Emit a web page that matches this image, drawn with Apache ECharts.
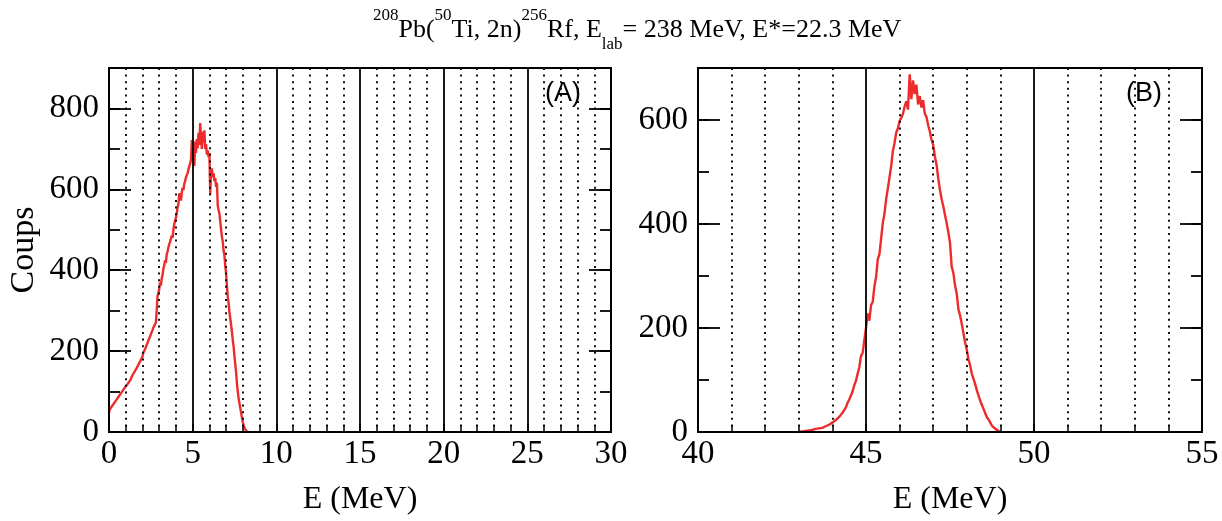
<!DOCTYPE html>
<html>
<head>
<meta charset="utf-8">
<script src="https://cdn.jsdelivr.net/npm/echarts@6/dist/echarts.min.js"></script>
<style>html,body{margin:0;padding:0;background:#fff}#c{width:1222px;height:521px}</style>
</head>
<body>
<div id="c"></div>
<script>
// Panel A: counts per 0.05 MeV bin starting at 0 MeV
const binStartA = 0.0;
const binWidthA = 0.05;
const countsA = [48,56,54,62,60,68,66,74,72,80,78,86,84,92,88,98,96,104,100,110,
  106,114,118,116,124,122,130,136,132,144,146,142,154,158,156,166,170,168,178,182,
  186,196,192,204,210,206,220,226,222,236,240,238,252,258,254,262,270,300,336,344,
  352,370,362,380,388,404,412,424,418,440,446,456,464,470,478,486,480,500,514,522,
  530,540,556,564,590,584,572,592,604,598,614,620,630,626,640,650,646,664,672,722,
  680,700,658,718,690,724,702,740,710,764,730,700,742,716,746,700,712,686,696,680,
  690,588,640,652,630,640,620,628,606,616,560,548,540,542,500,482,470,448,436,410,
  392,360,334,318,296,280,264,246,226,210,186,166,146,118,98,82,70,58,46,34,
  24,16,10,6,3,1,0];
// Panel B: counts per 0.05 MeV bin starting at 43 MeV
const binStartB = 43.0;
const binWidthB = 0.05;
const countsB = [0,1,1,2,2,3,3,4,4,5,6,5,7,8,8,10,11,12,14,15,
  18,19,23,24,29,31,37,42,47,56,62,70,78,90,98,112,124,146,152,176,
  200,228,214,244,250,280,298,332,342,372,402,420,448,468,490,512,540,556,576,584,
  598,604,612,626,636,620,688,640,676,650,668,630,646,624,638,612,606,590,578,562,
  552,530,514,488,466,448,434,418,402,384,364,318,306,282,266,236,224,208,190,172,
  158,140,128,112,102,92,80,70,60,52,44,36,28,24,18,12,9,6,4,2,
  0];
const xTicksA = {min: 0, max: 30, interval: 5};
const xTicksB = {min: 40, max: 55, interval: 5};
const yTicksA = {min: 0, max: 900, interval: 200};
const yTicksB = {min: 0, max: 700, interval: 200};
const panelLabels = ['(A)', '(B)'];
const xName = 'E (MeV)';
const yName = 'Coups';

const serif = 'Liberation Serif';
const red = '#ee2b2b';

function xAxisFor(grid, t) {
  return {
    type: 'value', gridIndex: grid, min: t.min, max: t.max, interval: t.interval,
    name: xName, nameLocation: 'middle', nameGap: 52,
    nameTextStyle: {fontFamily: serif, fontSize: 32, color: '#000'},
    axisLine: {show: true, lineStyle: {color: '#000', width: 2}},
    axisTick: {show: true, inside: true, length: 8, lineStyle: {color: '#000', width: 1.5}},
    minorTick: {show: true, splitNumber: 5, length: 7, lineStyle: {color: '#000', width: 1.5}},
    axisLabel: {fontFamily: serif, fontSize: 33, color: '#000', margin: 6},
    splitLine: {show: true, lineStyle: {color: '#000', width: 1.8}},
    minorSplitLine: {show: true, lineStyle: {color: '#111', width: 2, type: [2, 4.6]}},
    z: 3
  };
}
function yAxesFor(grid, t, withName) {
  const common = {type: 'value', gridIndex: grid, min: t.min, max: t.max, splitLine: {show: false}, z: 3};
  return [
    Object.assign({}, common, {
      position: 'left', interval: t.interval,
      name: withName ? yName : '', nameLocation: 'middle', nameGap: 68,
      nameTextStyle: {fontFamily: serif, fontSize: 34, color: '#000'},
      axisLine: {show: true, lineStyle: {color: '#000', width: 2}},
      axisTick: {show: true, inside: true, length: 22, lineStyle: {color: '#000', width: 1.8}},
      axisLabel: {fontFamily: serif, fontSize: 33, color: '#000', margin: 10, showMaxLabel: false}
    }),
    Object.assign({}, common, {
      position: 'left', interval: t.interval / 2,
      axisLine: {show: false},
      axisTick: {show: true, inside: true, length: 11, lineStyle: {color: '#000', width: 1.8}},
      axisLabel: {show: false}
    }),
    Object.assign({}, common, {
      position: 'right', interval: t.interval,
      axisLine: {show: true, lineStyle: {color: '#000', width: 2}},
      axisTick: {show: true, inside: true, length: 22, lineStyle: {color: '#000', width: 1.8}},
      axisLabel: {show: false}
    }),
    Object.assign({}, common, {
      position: 'right', interval: t.interval / 2,
      axisLine: {show: false},
      axisTick: {show: true, inside: true, length: 11, lineStyle: {color: '#000', width: 1.8}},
      axisLabel: {show: false}
    })
  ];
}

const dataA = countsA.map((v, i) => [binStartA + i * binWidthA, v]);
const dataB = countsB.map((v, i) => [binStartB + i * binWidthB, v]);

const chart = echarts.init(document.getElementById('c'), null, {renderer: 'canvas'});
chart.setOption({
  animation: false,
  backgroundColor: '#fff',
  title: {
    left: 368, top: 2,
    text: '{sup|208}{m|Pb(}{sup|50}{m|Ti, 2n)}{sup|256}{m|Rf, E}{sub|lab}{m|= 238 MeV, E*=22.3 MeV}',
    textStyle: {
      fontWeight: 'normal',
      rich: {
        m: {fontFamily: serif, fontSize: 26, fontWeight: 'normal', color: '#000', lineHeight: 46, verticalAlign: 'middle'},
        sup: {fontFamily: serif, fontSize: 17, fontWeight: 'normal', color: '#000', lineHeight: 20, verticalAlign: 'top'},
        sub: {fontFamily: serif, fontSize: 17, fontWeight: 'normal', color: '#000', lineHeight: 6, verticalAlign: 'bottom'}
      }
    }
  },
  grid: [
    {left: 109, top: 68, width: 502, height: 374, show: true, borderColor: '#000', borderWidth: 2, backgroundColor: 'transparent'},
    {left: 698, top: 68, width: 504, height: 374, show: true, borderColor: '#000', borderWidth: 2, backgroundColor: 'transparent'}
  ],
  xAxis: [xAxisFor(0, xTicksA), xAxisFor(1, xTicksB)],
  yAxis: yAxesFor(0, yTicksA, true).concat(yAxesFor(1, yTicksB, false)),
  graphic: [
    {type: 'text', left: 545, top: 80, style: {text: panelLabels[0], fontFamily: 'Liberation Sans', fontSize: 27, fill: '#000'}},
    {type: 'text', left: 1126, top: 80, style: {text: panelLabels[1], fontFamily: 'Liberation Sans', fontSize: 27, fill: '#000'}}
  ],
  series: [
    {type: 'line', xAxisIndex: 0, yAxisIndex: 0, data: dataA, showSymbol: false,
     lineStyle: {color: red, width: 2.4}, z: 2},
    {type: 'line', xAxisIndex: 1, yAxisIndex: 4, data: dataB, showSymbol: false,
     lineStyle: {color: red, width: 2.4}, z: 2}
  ]
});
</script>
</body>
</html>
